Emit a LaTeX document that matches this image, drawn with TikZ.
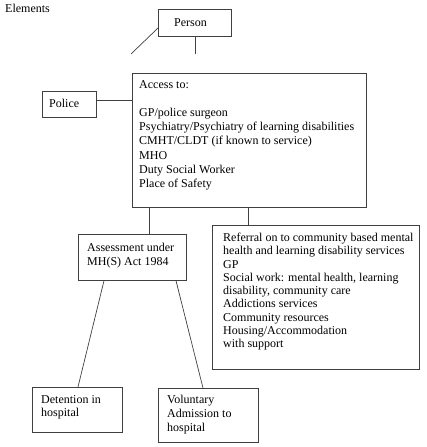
\documentclass[tikz,border=0pt]{standalone}
\usepackage{fontspec}
\setmainfont{Liberation Serif}
\usetikzlibrary{calc}
\begin{document}
\begin{tikzpicture}[x=1bp,y=-1bp,
  box/.style={draw=black!75, line width=0.7bp, inner sep=0pt, anchor=north west},
  conn/.style={draw=black!75, line width=0.7bp},
  txt/.style={inner sep=0pt, anchor=north west, align=left, font=\fontsize{12bp}{14.2bp}\selectfont}]
\useasboundingbox (0,0) rectangle (426,447);
\node[txt] (title) at (5,4) {Elements};
% boxes
\node[box, minimum width=73bp, minimum height=27bp] (person) at (158,9) {};
\node[box, minimum width=54bp, minimum height=26bp] (police) at (42,91) {};
\node[box, minimum width=234bp, minimum height=134bp] (access) at (132,73) {};
\node[box, minimum width=108bp, minimum height=46bp] (assess) at (78,234) {};
\node[box, minimum width=207bp, minimum height=144bp] (ref) at (212,225) {};
\node[box, minimum width=90bp, minimum height=45bp] (det) at (32,387) {};
\node[box, minimum width=100bp, minimum height=54bp] (vol) at (158,388) {};
% texts
\node[txt] (tperson) at (174,18) {Person};
\node[txt] (tpolice) at (49,99) {Police};
\node[txt] (taccess) at (139,80) {Access to:\\[14.2bp]GP/police surgeon\\Psychiatry/Psychiatry of learning disabilities\\CMHT/CLDT (if known to service)\\MHO\\Duty Social Worker\\Place of Safety};
\node[txt] (tassess) at (87,243) {Assessment under\\MH(S) Act 1984};
\node[txt, font=\fontsize{12bp}{13.25bp}\selectfont] (tref) at (223,233) {Referral on to community based mental\\health and learning disability services\\GP\\Social work: mental health, learning\\disability, community care\\Addictions services\\Community resources\\Housing/Accommodation\\with support};
\node[txt, font=\fontsize{12bp}{13.3bp}\selectfont] (tdet) at (41,395) {Detention in\\hospital};
\node[txt, font=\fontsize{12bp}{14bp}\selectfont] (tvol) at (167,395) {Voluntary\\Admission to\\hospital};
% connectors
\coordinate (pfree) at (131,54);
\coordinate (pfree2) at (194,54);
\draw[conn] ($(person.north west)+(0,19)$) -- (pfree);
\draw[conn] (person.south) -- (pfree2 -| person.south);
\coordinate (pl) at ($(police.east)+(0,-4)$);
\draw[conn] (pl) -- (pl -| access.west);
\coordinate (a1) at ($(access.south west)+(17,0)$);
\draw[conn] (a1) -- (a1 |- assess.north);
\coordinate (a2) at ($(access.south west)+(116,0)$);
\draw[conn] (a2) -- (a2 |- ref.north);
\draw[conn] ($(assess.south west)+(26,0)$) -- ($(det.north west)+(46,0)$);
\draw[conn] ($(assess.south west)+(98,0)$) -- ($(vol.north west)+(45,0)$);
\end{tikzpicture}
\end{document}
